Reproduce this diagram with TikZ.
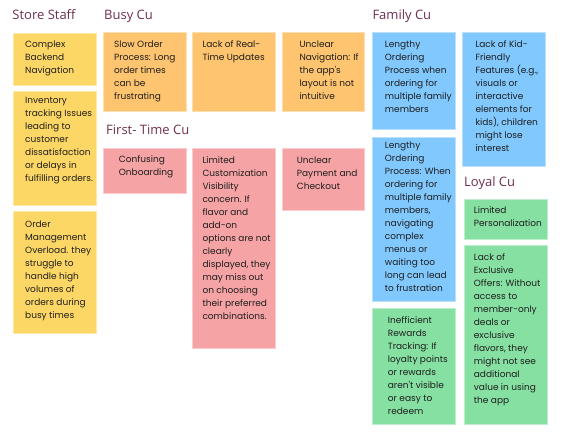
\documentclass[tikz,border=0pt]{standalone}
\usepackage{fontspec}
\setmainfont{Open Sans}
\newfontfamily\notefont{Poppins}
\definecolor{headcol}{HTML}{6E3050}
\definecolor{staffcol}{HTML}{FDD766}
\definecolor{busycol}{HTML}{FEC46F}
\definecolor{firstcol}{HTML}{F5A3A4}
\definecolor{familycol}{HTML}{80C8FE}
\definecolor{loyalcol}{HTML}{86E0A2}
\newcommand{\notebody}[1]{\parbox[t]{80pt}{\raggedright #1}}
\begin{document}
\begin{tikzpicture}[x=1pt,y=-1pt,
    head/.style={anchor=base west,inner sep=0pt,text=headcol,font=\fontsize{13}{15}\selectfont},
    note/.style={anchor=north west,fill=#1,draw=#1!55!white,line width=0.6pt,inner sep=0pt},
    notetxt/.style={anchor=base west,inner sep=0pt,text=black!88,font=\notefont\fontsize{9}{13}\selectfont}]

    \useasboundingbox[fill=white] (0,0) rectangle (564,441);

    %Titulos
    \node[head] (hstaff)  at (12.3,20)  {Store Staff};
    \node[head] (hbusy)   at (104,20)   {Busy Cu};
    \node[head] (hfirst)  at (106,134.3){First- Time Cu};
    \node[head] (hfamily) at (372.3,20) {Family Cu};
    \node[head] (hloyal)  at (464,186)  {Loyal Cu};

    %Store Staff
    \node[note=staffcol,minimum width=83,minimum height=52.3] (staffa) at (13,32.7) {};
    \node[note=staffcol,minimum width=83,minimum height=114.3] (staffb) at (13,90.7) {};
    \node[note=staffcol,minimum width=83,minimum height=121.7] (staffc) at (13,211) {};
    \node[notetxt] (staffat) at (25,47.2) {\notebody{Complex\\Backend\\Navigation}};
    \node[notetxt] (staffbt) at (25,103.8) {\notebody{Inventory\\tracking Issues\\leading to\\customer\\dissatisfaction\\or delays in\\fulfilling orders.}};
    \node[notetxt] (staffct) at (25,227.2) {\notebody{Order\\Management\\Overload. they\\struggle to\\handle high\\volumes of\\orders during\\busy times}};

    %Busy Cu
    \node[note=busycol,minimum width=82.7,minimum height=78.4] (busya) at (103,32.3) {};
    \node[note=busycol,minimum width=82.7,minimum height=78.4] (busyb) at (192.3,32.3) {};
    \node[note=busycol,minimum width=82.3,minimum height=78.4] (busyc) at (282,32.3) {};
    \node[notetxt] (busyat) at (114,47.2) {\notebody{Slow Order\\Process: Long\\order times\\can be\\frustrating}};
    \node[notetxt] (busybt) at (202.3,47.2) {\notebody{Lack of Real-\\Time Updates}};
    \node[notetxt] (busyct) at (299.3,47.2) {\notebody{Unclear\\Navigation: If\\the app's\\layout is not\\intuitive}};

    %First- Time Cu
    \node[note=firstcol,minimum width=83,minimum height=45.3] (firsta) at (103,148) {};
    \node[note=firstcol,minimum width=82.7,minimum height=199.7] (firstb) at (192.3,148) {};
    \node[note=firstcol,minimum width=82.3,minimum height=61.7] (firstc) at (282,148) {};
    \node[notetxt] (firstat) at (118.7,162.7) {\notebody{Confusing\\Onboarding}};
    \node[notetxt] (firstbt) at (202.3,163) {\notebody{Limited\\Customization\\Visibility\\concern. If\\flavor and\\add-on\\options are not\\clearly\\displayed, they\\may miss out\\on choosing\\their preferred\\combinations.}};
    \node[notetxt] (firstct) at (296.7,163) {\notebody{Unclear\\Payment and\\Checkout}};

    %Family Cu
    \node[note=familycol,minimum width=82.7,minimum height=97] (familya) at (372.3,32.3) {};
    \node[note=familycol,minimum width=82.7,minimum height=133.7] (familyb) at (462,32.3) {};
    \node[note=familycol,minimum width=82.7,minimum height=164.3] (familyc) at (372.3,136.7) {};
    \node[notetxt] (familyat) at (384.7,47.8) {\notebody{Lengthy\\Ordering\\Process when\\ordering for\\multiple family\\members}};
    \node[notetxt] (familybt) at (475.3,47.8) {\notebody{Lack of Kid-\\Friendly\\Features (e.g.,\\visuals or\\interactive\\elements for\\kids), children\\might lose\\interest}};
    \node[notetxt] (familyct) at (384.7,148.5) {\notebody{Lengthy\\Ordering\\Process: When\\ordering for\\multiple family\\members,\\navigating\\complex\\menus or\\waiting too\\long can lead\\to frustration}};

    %Loyal Cu
    \node[note=loyalcol,minimum width=82.7,minimum height=115.7] (loyala) at (372.3,308.3) {};
    \node[note=loyalcol,minimum width=83,minimum height=40] (loyalb) at (464,199) {};
    \node[note=loyalcol,minimum width=83,minimum height=178.7] (loyalc) at (464,245.3) {};
    \node[notetxt] (loyalat) at (387.7,323.5) {\notebody{Inefficient\\Rewards\\Tracking: If\\loyalty points\\or rewards\\aren't visible\\or easy to\\redeem}};
    \node[notetxt] (loyalbt) at (473.7,213.2) {\notebody{Limited\\Personalization}};
    \node[notetxt] (loyalct) at (473.7,260.2) {\notebody{Lack of\\Exclusive\\Offers: Without\\access to\\member-only\\deals or\\exclusive\\flavors, they\\might not see\\additional\\value in using\\the app}};
\end{tikzpicture}
\end{document}
